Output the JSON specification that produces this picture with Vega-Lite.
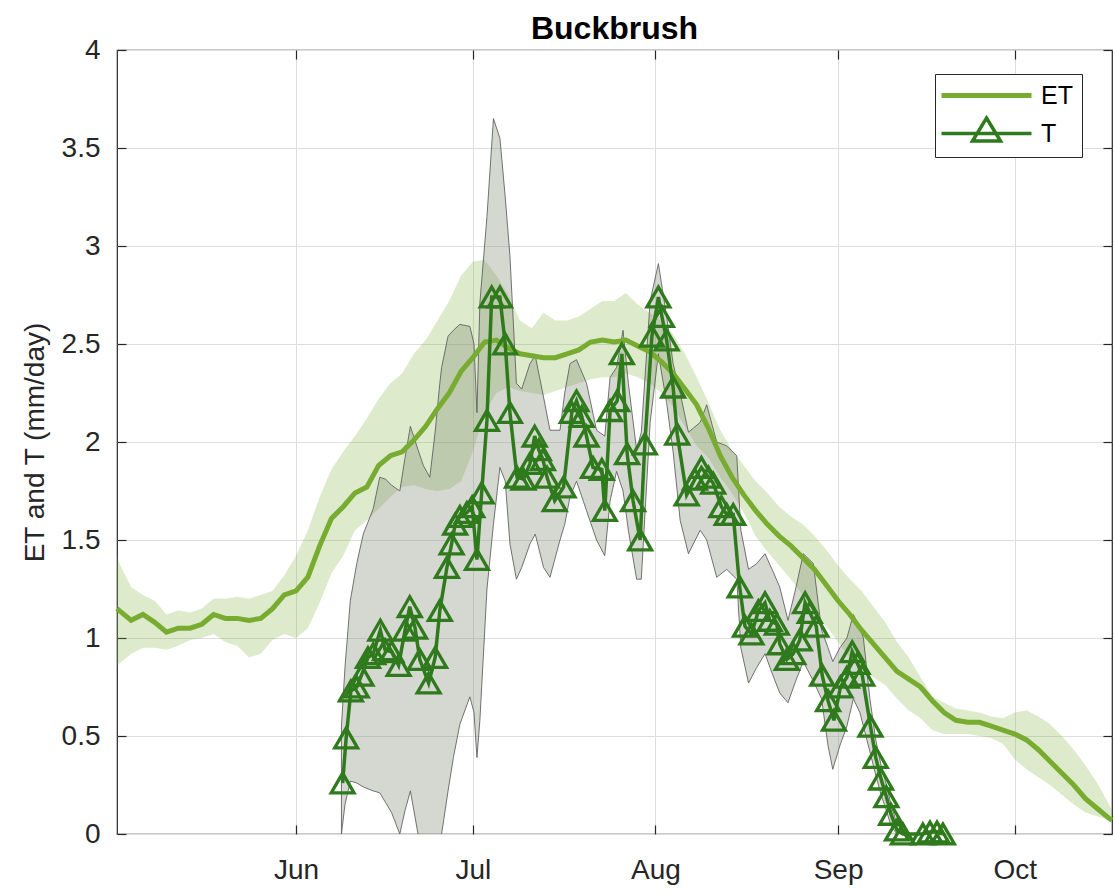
{
  "$schema": "https://vega.github.io/schema/vega-lite/v6.json",
  "width": 995,
  "height": 784,
  "autosize": "none",
  "padding": {"left": 117, "top": 50, "right": 3, "bottom": 59},
  "background": "white",
  "title": {"text": "Buckbrush", "fontSize": 32, "fontWeight": "bold", "color": "#000000", "offset": -10, "anchor": "middle"},
  "config": {
    "font": "Liberation Sans",
    "view": {"stroke": "#262626", "strokeWidth": 1.2}
  },
  "datasets": {
    "et": [
      {"doy": 121.6, "et": 1.15, "lo": 0.86, "hi": 1.42},
      {"doy": 122, "et": 1.14, "lo": 0.87, "hi": 1.38},
      {"doy": 124, "et": 1.09, "lo": 0.92, "hi": 1.26},
      {"doy": 126, "et": 1.12, "lo": 0.95, "hi": 1.22},
      {"doy": 128, "et": 1.08, "lo": 0.95, "hi": 1.19},
      {"doy": 130, "et": 1.03, "lo": 0.94, "hi": 1.12},
      {"doy": 132, "et": 1.05, "lo": 0.96, "hi": 1.14},
      {"doy": 134, "et": 1.05, "lo": 0.99, "hi": 1.13},
      {"doy": 136, "et": 1.07, "lo": 1.00, "hi": 1.15},
      {"doy": 138, "et": 1.12, "lo": 1.02, "hi": 1.20},
      {"doy": 140, "et": 1.10, "lo": 0.98, "hi": 1.20},
      {"doy": 142, "et": 1.10, "lo": 0.96, "hi": 1.21},
      {"doy": 144, "et": 1.09, "lo": 0.90, "hi": 1.20},
      {"doy": 146, "et": 1.10, "lo": 0.92, "hi": 1.22},
      {"doy": 148, "et": 1.15, "lo": 0.99, "hi": 1.24},
      {"doy": 150, "et": 1.22, "lo": 1.02, "hi": 1.32},
      {"doy": 152, "et": 1.24, "lo": 1.00, "hi": 1.42},
      {"doy": 154, "et": 1.31, "lo": 1.05, "hi": 1.55},
      {"doy": 156, "et": 1.47, "lo": 1.18, "hi": 1.72},
      {"doy": 158, "et": 1.61, "lo": 1.33, "hi": 1.86},
      {"doy": 160, "et": 1.67, "lo": 1.42, "hi": 1.95},
      {"doy": 162, "et": 1.74, "lo": 1.55, "hi": 2.03},
      {"doy": 164, "et": 1.77, "lo": 1.60, "hi": 2.12},
      {"doy": 166, "et": 1.88, "lo": 1.66, "hi": 2.22},
      {"doy": 168, "et": 1.93, "lo": 1.72, "hi": 2.30},
      {"doy": 170, "et": 1.95, "lo": 1.77, "hi": 2.35},
      {"doy": 172, "et": 2.01, "lo": 1.78, "hi": 2.45},
      {"doy": 174, "et": 2.08, "lo": 1.76, "hi": 2.52},
      {"doy": 176, "et": 2.17, "lo": 1.75, "hi": 2.62},
      {"doy": 178, "et": 2.25, "lo": 1.76, "hi": 2.72},
      {"doy": 180, "et": 2.36, "lo": 1.80, "hi": 2.85},
      {"doy": 182, "et": 2.43, "lo": 1.95, "hi": 2.92},
      {"doy": 184, "et": 2.51, "lo": 2.15, "hi": 2.93},
      {"doy": 186, "et": 2.52, "lo": 2.25, "hi": 2.85},
      {"doy": 188, "et": 2.48, "lo": 2.28, "hi": 2.75},
      {"doy": 190, "et": 2.45, "lo": 2.26, "hi": 2.62},
      {"doy": 192, "et": 2.44, "lo": 2.25, "hi": 2.58},
      {"doy": 194, "et": 2.43, "lo": 2.24, "hi": 2.66},
      {"doy": 196, "et": 2.43, "lo": 2.26, "hi": 2.62},
      {"doy": 198, "et": 2.45, "lo": 2.28, "hi": 2.62},
      {"doy": 200, "et": 2.47, "lo": 2.30, "hi": 2.64},
      {"doy": 202, "et": 2.51, "lo": 2.32, "hi": 2.68},
      {"doy": 204, "et": 2.52, "lo": 2.33, "hi": 2.72},
      {"doy": 206, "et": 2.51, "lo": 2.33, "hi": 2.72},
      {"doy": 208, "et": 2.52, "lo": 2.35, "hi": 2.76},
      {"doy": 210, "et": 2.49, "lo": 2.33, "hi": 2.70},
      {"doy": 212, "et": 2.46, "lo": 2.30, "hi": 2.66},
      {"doy": 214, "et": 2.41, "lo": 2.25, "hi": 2.62},
      {"doy": 216, "et": 2.35, "lo": 2.18, "hi": 2.55},
      {"doy": 218, "et": 2.27, "lo": 2.08, "hi": 2.45},
      {"doy": 220, "et": 2.19, "lo": 1.98, "hi": 2.33},
      {"doy": 222, "et": 2.07, "lo": 1.92, "hi": 2.20},
      {"doy": 224, "et": 1.93, "lo": 1.82, "hi": 2.06},
      {"doy": 226, "et": 1.82, "lo": 1.74, "hi": 1.96},
      {"doy": 228, "et": 1.73, "lo": 1.64, "hi": 1.88},
      {"doy": 230, "et": 1.65, "lo": 1.52, "hi": 1.80},
      {"doy": 232, "et": 1.58, "lo": 1.44, "hi": 1.74},
      {"doy": 234, "et": 1.52, "lo": 1.37, "hi": 1.67},
      {"doy": 236, "et": 1.47, "lo": 1.30, "hi": 1.62},
      {"doy": 238, "et": 1.41, "lo": 1.22, "hi": 1.58},
      {"doy": 240, "et": 1.35, "lo": 1.12, "hi": 1.52},
      {"doy": 242, "et": 1.27, "lo": 1.06, "hi": 1.45},
      {"doy": 244, "et": 1.19, "lo": 0.98, "hi": 1.37},
      {"doy": 246, "et": 1.12, "lo": 0.90, "hi": 1.30},
      {"doy": 248, "et": 1.04, "lo": 0.84, "hi": 1.24},
      {"doy": 250, "et": 0.97, "lo": 0.80, "hi": 1.16},
      {"doy": 252, "et": 0.90, "lo": 0.76, "hi": 1.08},
      {"doy": 254, "et": 0.83, "lo": 0.69, "hi": 0.98},
      {"doy": 256, "et": 0.79, "lo": 0.63, "hi": 0.90},
      {"doy": 258, "et": 0.75, "lo": 0.59, "hi": 0.80},
      {"doy": 260, "et": 0.68, "lo": 0.53, "hi": 0.70},
      {"doy": 262, "et": 0.62, "lo": 0.51, "hi": 0.67},
      {"doy": 264, "et": 0.58, "lo": 0.51, "hi": 0.64},
      {"doy": 266, "et": 0.57, "lo": 0.51, "hi": 0.63},
      {"doy": 268, "et": 0.57, "lo": 0.50, "hi": 0.62},
      {"doy": 270, "et": 0.55, "lo": 0.49, "hi": 0.60},
      {"doy": 272, "et": 0.53, "lo": 0.46, "hi": 0.59},
      {"doy": 274, "et": 0.51, "lo": 0.38, "hi": 0.62},
      {"doy": 276, "et": 0.48, "lo": 0.33, "hi": 0.63},
      {"doy": 278, "et": 0.43, "lo": 0.29, "hi": 0.60},
      {"doy": 280, "et": 0.37, "lo": 0.25, "hi": 0.56},
      {"doy": 282, "et": 0.31, "lo": 0.20, "hi": 0.50},
      {"doy": 284, "et": 0.25, "lo": 0.15, "hi": 0.43},
      {"doy": 286, "et": 0.18, "lo": 0.11, "hi": 0.35},
      {"doy": 288, "et": 0.13, "lo": 0.09, "hi": 0.26},
      {"doy": 290, "et": 0.08, "lo": 0.07, "hi": 0.15},
      {"doy": 290.5, "et": 0.07, "lo": 0.06, "hi": 0.12}
    ],
    "tband": [
      {"doy": 159.7, "lo": 0.00, "hi": 0.55},
      {"doy": 160.3, "lo": 0.15, "hi": 0.85},
      {"doy": 161.2, "lo": 0.27, "hi": 1.19},
      {"doy": 162.3, "lo": 0.26, "hi": 1.38},
      {"doy": 163.4, "lo": 0.24, "hi": 1.53},
      {"doy": 165.1, "lo": 0.22, "hi": 1.66},
      {"doy": 166.2, "lo": 0.21, "hi": 1.82},
      {"doy": 167.2, "lo": 0.16, "hi": 1.81},
      {"doy": 168.2, "lo": 0.11, "hi": 1.78},
      {"doy": 169.6, "lo": 0.00, "hi": 1.75},
      {"doy": 170.5, "lo": 0.12, "hi": 1.92},
      {"doy": 171.4, "lo": 0.22, "hi": 2.08},
      {"doy": 172.7, "lo": 0.00, "hi": 1.96},
      {"doy": 173.6, "lo": -0.20, "hi": 1.88},
      {"doy": 174.7, "lo": -0.40, "hi": 1.82},
      {"doy": 175.6, "lo": -0.30, "hi": 2.05},
      {"doy": 176.4, "lo": -0.05, "hi": 2.30},
      {"doy": 176.7, "lo": 0.00, "hi": 2.38},
      {"doy": 177.8, "lo": 0.22, "hi": 2.54},
      {"doy": 178.7, "lo": 0.39, "hi": 2.57},
      {"doy": 179.8, "lo": 0.56, "hi": 2.60},
      {"doy": 181.5, "lo": 0.70, "hi": 2.59},
      {"doy": 182.2, "lo": 0.62, "hi": 2.50},
      {"doy": 182.7, "lo": 0.39, "hi": 2.15},
      {"doy": 183.2, "lo": 0.58, "hi": 2.71},
      {"doy": 184.4, "lo": 1.25, "hi": 3.15},
      {"doy": 185.5, "lo": 1.58, "hi": 3.65},
      {"doy": 186.6, "lo": 1.87, "hi": 3.55},
      {"doy": 187.5, "lo": 1.80, "hi": 3.25},
      {"doy": 188.3, "lo": 1.48, "hi": 2.95},
      {"doy": 189.4, "lo": 1.30, "hi": 2.30},
      {"doy": 190.3, "lo": 1.36, "hi": 2.27},
      {"doy": 191.7, "lo": 1.48, "hi": 2.40},
      {"doy": 192.6, "lo": 1.53, "hi": 2.44},
      {"doy": 194.0, "lo": 1.36, "hi": 2.23},
      {"doy": 195.1, "lo": 1.31, "hi": 2.06},
      {"doy": 196.8, "lo": 1.50, "hi": 2.06},
      {"doy": 197.6, "lo": 1.58, "hi": 2.25},
      {"doy": 198.5, "lo": 1.72, "hi": 2.40},
      {"doy": 199.6, "lo": 1.80, "hi": 2.42},
      {"doy": 201.3, "lo": 1.65, "hi": 2.30},
      {"doy": 203.0, "lo": 1.50, "hi": 2.06},
      {"doy": 204.4, "lo": 1.42, "hi": 2.03},
      {"doy": 205.3, "lo": 1.70, "hi": 2.33},
      {"doy": 206.4, "lo": 1.85, "hi": 2.38},
      {"doy": 207.5, "lo": 1.75, "hi": 2.57},
      {"doy": 208.4, "lo": 1.55, "hi": 2.30},
      {"doy": 209.8, "lo": 1.30, "hi": 1.96},
      {"doy": 210.6, "lo": 1.30, "hi": 2.05},
      {"doy": 212.1, "lo": 2.10, "hi": 2.72},
      {"doy": 213.5, "lo": 2.45, "hi": 2.91},
      {"doy": 214.9, "lo": 2.20, "hi": 2.64},
      {"doy": 216.0, "lo": 1.95, "hi": 2.40},
      {"doy": 217.2, "lo": 1.60, "hi": 2.25},
      {"doy": 218.6, "lo": 1.43, "hi": 2.05},
      {"doy": 220.6, "lo": 1.55, "hi": 2.10},
      {"doy": 221.7, "lo": 1.50, "hi": 2.19},
      {"doy": 223.4, "lo": 1.31, "hi": 2.00},
      {"doy": 225.1, "lo": 1.35, "hi": 1.98},
      {"doy": 226.8, "lo": 1.30, "hi": 1.93},
      {"doy": 227.5, "lo": 0.95, "hi": 1.55},
      {"doy": 228.8, "lo": 0.77, "hi": 1.35},
      {"doy": 230.2, "lo": 0.85, "hi": 1.38},
      {"doy": 231.6, "lo": 0.92, "hi": 1.43},
      {"doy": 232.8, "lo": 0.82, "hi": 1.35},
      {"doy": 234.1, "lo": 0.72, "hi": 1.26},
      {"doy": 235.5, "lo": 0.67, "hi": 1.09},
      {"doy": 236.8, "lo": 0.78, "hi": 1.25},
      {"doy": 238.1, "lo": 0.88, "hi": 1.43},
      {"doy": 239.8, "lo": 0.78, "hi": 1.38},
      {"doy": 241.2, "lo": 0.69, "hi": 1.04},
      {"doy": 242.3, "lo": 0.45, "hi": 0.95},
      {"doy": 243.1, "lo": 0.33, "hi": 0.88},
      {"doy": 244.3, "lo": 0.45, "hi": 0.95},
      {"doy": 245.5, "lo": 0.55, "hi": 1.00},
      {"doy": 246.6, "lo": 0.69, "hi": 1.12},
      {"doy": 247.7, "lo": 0.62, "hi": 1.05},
      {"doy": 248.3, "lo": 0.55, "hi": 1.00},
      {"doy": 249.4, "lo": 0.42, "hi": 0.69},
      {"doy": 250.4, "lo": 0.30, "hi": 0.48},
      {"doy": 251.3, "lo": 0.20, "hi": 0.35},
      {"doy": 252.2, "lo": 0.12, "hi": 0.25},
      {"doy": 253.0, "lo": 0.04, "hi": 0.15},
      {"doy": 254.0, "lo": 0.00, "hi": 0.05},
      {"doy": 255.0, "lo": 0.00, "hi": 0.02}
    ],
    "t": [
      {"doy": 159.9, "t": 0.26}, {"doy": 160.5, "t": 0.49}, {"doy": 161.3, "t": 0.73},
      {"doy": 162.3, "t": 0.75}, {"doy": 163.1, "t": 0.81}, {"doy": 164.2, "t": 0.90},
      {"doy": 165.1, "t": 0.92}, {"doy": 166.3, "t": 1.04}, {"doy": 167.1, "t": 0.94},
      {"doy": 168.2, "t": 0.93}, {"doy": 169.4, "t": 0.86}, {"doy": 170.5, "t": 1.04},
      {"doy": 171.3, "t": 1.16}, {"doy": 172.2, "t": 1.05}, {"doy": 173.0, "t": 0.89},
      {"doy": 174.5, "t": 0.77}, {"doy": 175.6, "t": 0.90}, {"doy": 176.4, "t": 1.14},
      {"doy": 177.6, "t": 1.36}, {"doy": 178.4, "t": 1.48}, {"doy": 179.0, "t": 1.58},
      {"doy": 179.8, "t": 1.62}, {"doy": 181.0, "t": 1.64}, {"doy": 181.9, "t": 1.67},
      {"doy": 182.7, "t": 1.40}, {"doy": 183.5, "t": 1.74}, {"doy": 184.4, "t": 2.11},
      {"doy": 185.2, "t": 2.74}, {"doy": 186.6, "t": 2.74}, {"doy": 187.5, "t": 2.50},
      {"doy": 188.3, "t": 2.15}, {"doy": 189.5, "t": 1.82}, {"doy": 190.6, "t": 1.81},
      {"doy": 191.7, "t": 1.89}, {"doy": 192.5, "t": 2.03}, {"doy": 193.2, "t": 1.96},
      {"doy": 193.9, "t": 1.91}, {"doy": 194.6, "t": 1.82}, {"doy": 195.9, "t": 1.70},
      {"doy": 197.4, "t": 1.77}, {"doy": 198.8, "t": 2.15}, {"doy": 199.6, "t": 2.21},
      {"doy": 200.5, "t": 2.13}, {"doy": 201.3, "t": 2.03}, {"doy": 202.4, "t": 1.87},
      {"doy": 203.9, "t": 1.86}, {"doy": 204.4, "t": 1.65}, {"doy": 205.3, "t": 2.16},
      {"doy": 206.5, "t": 2.21}, {"doy": 207.3, "t": 2.45}, {"doy": 208.2, "t": 1.94},
      {"doy": 209.2, "t": 1.70}, {"doy": 210.4, "t": 1.50}, {"doy": 211.2, "t": 1.99},
      {"doy": 212.4, "t": 2.54}, {"doy": 213.5, "t": 2.74}, {"doy": 214.1, "t": 2.64},
      {"doy": 214.9, "t": 2.52}, {"doy": 216.0, "t": 2.28}, {"doy": 216.7, "t": 2.04},
      {"doy": 218.3, "t": 1.73}, {"doy": 219.7, "t": 1.81}, {"doy": 220.8, "t": 1.87},
      {"doy": 222.0, "t": 1.82}, {"doy": 222.8, "t": 1.79}, {"doy": 224.2, "t": 1.67},
      {"doy": 225.1, "t": 1.63}, {"doy": 226.2, "t": 1.63}, {"doy": 227.3, "t": 1.26},
      {"doy": 228.2, "t": 1.06}, {"doy": 229.3, "t": 1.02}, {"doy": 230.5, "t": 1.14},
      {"doy": 231.6, "t": 1.18}, {"doy": 232.4, "t": 1.09}, {"doy": 233.6, "t": 1.07},
      {"doy": 234.1, "t": 0.97}, {"doy": 235.3, "t": 0.89}, {"doy": 236.4, "t": 0.92},
      {"doy": 237.5, "t": 0.99}, {"doy": 238.4, "t": 1.18}, {"doy": 239.2, "t": 1.13},
      {"doy": 240.3, "t": 1.06}, {"doy": 241.3, "t": 0.81}, {"doy": 242.3, "t": 0.68},
      {"doy": 243.3, "t": 0.58}, {"doy": 244.4, "t": 0.75}, {"doy": 245.5, "t": 0.80},
      {"doy": 246.4, "t": 0.93}, {"doy": 247.3, "t": 0.87}, {"doy": 248.1, "t": 0.81},
      {"doy": 249.5, "t": 0.55}, {"doy": 250.4, "t": 0.39}, {"doy": 251.3, "t": 0.28},
      {"doy": 252.2, "t": 0.19}, {"doy": 253.0, "t": 0.10}, {"doy": 254.0, "t": 0.02},
      {"doy": 255.0, "t": 0.00}, {"doy": 258.4, "t": 0.00}, {"doy": 259.6, "t": 0.01},
      {"doy": 260.8, "t": 0.01}, {"doy": 261.8, "t": 0.00}
    ]
  },
  "resolve": {"axis": {"x": "independent", "y": "independent"}},
  "layer": [
    {
      "data": {"name": "et"},
      "mark": {"type": "area", "color": "#77ac30", "opacity": 0.25},
      "encoding": {
        "x": {
          "field": "doy", "type": "quantitative",
          "scale": {"domain": [121.6, 290.5], "nice": false, "zero": false},
          "axis": {
            "orient": "bottom", "title": null,
            "values": [152, 182, 213, 244, 274],
            "labelExpr": "['Jun','Jul','Aug','Sep','Oct'][indexof([152,182,213,244,274], datum.value)]",
            "grid": true, "gridColor": "#dedede", "gridWidth": 1,
            "domain": false, "ticks": true, "tickSize": -9, "tickColor": "#262626", "tickWidth": 1.2,
            "labelFontSize": 28, "labelColor": "#262626", "labelPadding": 31
          }
        },
        "y": {
          "field": "lo", "type": "quantitative",
          "scale": {"domain": [0, 4], "nice": false, "zero": false},
          "axis": {
            "orient": "left", "title": "ET and T (mm/day)",
            "values": [0, 0.5, 1, 1.5, 2, 2.5, 3, 3.5, 4], "format": ".2~f",
            "grid": true, "gridColor": "#dedede", "gridWidth": 1,
            "domain": false, "ticks": true, "tickSize": -9, "tickColor": "#262626", "tickWidth": 1.2,
            "labelFontSize": 28, "labelColor": "#262626", "labelPadding": 26,
            "titleFontSize": 28, "titleFontWeight": "normal", "titleColor": "#262626", "titlePadding": 12
          }
        },
        "y2": {"field": "hi"}
      }
    },
    {
      "data": {"name": "tband"},
      "mark": {"type": "area", "fill": "#7f8a70", "fillOpacity": 0.33, "stroke": "#5c5c5c", "strokeWidth": 1, "strokeOpacity": 0.85, "clip": true},
      "encoding": {
        "x": {"field": "doy", "type": "quantitative", "axis": null},
        "y": {"field": "lo", "type": "quantitative", "axis": null},
        "y2": {"field": "hi"}
      }
    },
    {
      "data": {"name": "et"},
      "mark": {"type": "line", "color": "#77ac30", "strokeWidth": 5},
      "encoding": {
        "x": {
          "field": "doy", "type": "quantitative",
          "axis": {
            "orient": "top", "title": null, "labels": false, "grid": false, "domain": false,
            "values": [152, 182, 213, 244, 274],
            "ticks": true, "tickSize": -9, "tickColor": "#262626", "tickWidth": 1.2, "offset": 0
          }
        },
        "y": {
          "field": "et", "type": "quantitative",
          "axis": {
            "orient": "right", "title": null, "labels": false, "grid": false, "domain": false,
            "values": [0, 0.5, 1, 1.5, 2, 2.5, 3, 3.5, 4],
            "ticks": true, "tickSize": -9, "tickColor": "#262626", "tickWidth": 1.2, "offset": 0
          }
        }
      }
    },
    {
      "data": {"name": "t"},
      "mark": {"type": "line", "color": "#2f7a1c", "strokeWidth": 3.5},
      "encoding": {
        "x": {"field": "doy", "type": "quantitative", "axis": null},
        "y": {"field": "t", "type": "quantitative", "axis": null}
      }
    },
    {
      "data": {"name": "t"},
      "mark": {"type": "point", "shape": "triangle-up", "filled": false, "size": 520, "strokeWidth": 3.3, "opacity": 1},
      "encoding": {
        "x": {"field": "doy", "type": "quantitative", "axis": null},
        "y": {"field": "t", "type": "quantitative", "axis": null},
        "color": {
          "datum": "T",
          "scale": {"domain": ["ET", "T"], "range": ["#77ac30", "#2f7a1c"]},
          "legend": {
            "orient": "none", "legendX": 818, "legendY": 24,
            "title": null,
            "labelFontSize": 25, "labelColor": "#000000", "labelFont": "Liberation Sans",
            "strokeColor": "#262626", "fillColor": "#ffffff", "padding": 9,
            "symbolSize": 100, "symbolStrokeWidth": 4, "symbolOffset": 30,
            "labelOffset": 42, "rowPadding": 2,
            "encoding": {
              "symbols": {
                "shape": {"value": {"expr": "datum.value === 'ET' ? 'M-9,0H9' : 'M-9,0H9M0,-3.1L2.8,1.5L-2.8,1.5Z'"}},
                "strokeWidth": {"value": {"expr": "datum.value === 'ET' ? 5 : 3.5"}}
              }
            }
          }
        }
      }
    }
  ]
}
